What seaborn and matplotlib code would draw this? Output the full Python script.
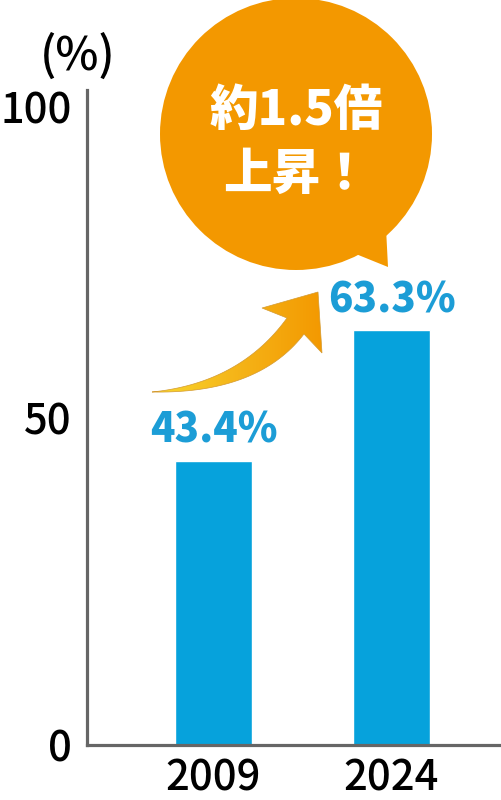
import numpy as np
import pandas as pd
import matplotlib
matplotlib.use("Agg")
import matplotlib.pyplot as plt
import seaborn as sns
from matplotlib.patches import Circle, Polygon, PathPatch
from matplotlib.path import Path
from matplotlib.colors import LinearSegmentedColormap

# data
years = ["2009", "2024"]
rates = [43.4, 63.3]
y_ticks = [0, 50, 100]
callout_lines = ["約1.5倍", "上昇！"]
unit_label = "(%)"

bar_color = "#06a2dc"
label_color = "#1c9dd6"
axis_color = "#666666"
orange = "#f39800"

sns.set_style("white")
plt.rcParams['font.family'] = ['Noto Sans CJK JP', 'DejaVu Sans']
plt.rcParams['text.color'] = 'black'
plt.rcParams['xtick.color'] = 'black'
plt.rcParams['ytick.color'] = 'black'

df = pd.DataFrame({"year": years, "rate": rates})

fig = plt.figure(figsize=(5.02, 8.0), dpi=100)
ax = fig.add_axes([87 / 502, 55 / 800, 415 / 502, 655 / 800])

sns.barplot(data=df, x="year", y="rate", color=bar_color, width=0.43,
            saturation=1, ax=ax)

ax.set_xlim(-0.711, 1.621)
ax.set_ylim(0, 100)
ax.set_xlabel("")
ax.set_ylabel("")

# spines
for s in ["top", "right"]:
    ax.spines[s].set_visible(False)
for s in ["left", "bottom"]:
    ax.spines[s].set_color(axis_color)
    ax.spines[s].set_linewidth(2.3)

ax.set_yticks(y_ticks)
ax.set_yticklabels([str(t) for t in y_ticks])
ax.tick_params(axis="y", direction="in", length=16.5, width=2.2,
               color=axis_color, labelsize=30, pad=11, labelcolor="black")
ax.tick_params(axis="x", length=0, labelsize=30, pad=8, labelcolor="black")
for lab in ax.get_xticklabels() + ax.get_yticklabels():
    lab.set_fontweight("medium")

# only the 50 tick has a visible mark
ticks = ax.yaxis.get_major_ticks()
ticks[0].tick1line.set_visible(False)
ticks[-1].tick1line.set_visible(False)
ticks[-1].label1.set_verticalalignment("top")

# value labels
for i, v in enumerate(rates):
    ax.annotate(f"{v}%", xy=(i, v), xytext=(0, 13), textcoords="offset points",
                ha="center", va="baseline", fontsize=29, fontweight="heavy",
                color=label_color)

# overlay in pixel coordinates for the decorations
ov = fig.add_axes([0, 0, 1, 1], zorder=5)
ov.set_xlim(0, 502)
ov.set_ylim(800, 0)
ov.set_axis_off()
ov.patch.set_visible(False)

ov.text(78, 56, unit_label, ha="center", va="center", fontsize=33,
        fontweight="medium")

# speech bubble
ov.add_patch(Circle((296, 134), 136, facecolor=orange, edgecolor="none"))
ov.add_patch(Polygon([(346, 250), (388, 267), (386, 228)],
                     closed=True, facecolor=orange, edgecolor="none"))
ov.text(296, 111, callout_lines[0], ha="center", va="center", fontsize=35,
        fontweight="heavy", color="white")
ov.text(296, 175, callout_lines[1], ha="center", va="center", fontsize=35,
        fontweight="heavy", color="white")


# curved arrow with yellow-to-orange gradient
def bez(p0, p1, p2, n=40):
    t = np.linspace(0, 1, n)[:, None]
    p0, p1, p2 = map(np.array, (p0, p1, p2))
    return (1 - t) ** 2 * p0 + 2 * (1 - t) * t * p1 + t ** 2 * p2


upper = bez((152, 392), (240, 383), (287, 318))
head = np.array([(262, 308), (318, 292), (322, 353)])
lower = bez((304, 334), (258, 394), (152, 392))
pts = np.vstack([upper, head, lower])
arrow_path = Path(pts, closed=False)
clip = PathPatch(arrow_path, facecolor="none", edgecolor="#d49a30",
                 linewidth=0.5, transform=ov.transData)
ov.add_patch(clip)
cmap = LinearSegmentedColormap.from_list("arr", ["#f9d92e", "#f5b418", orange])
grad = np.linspace(0, 1, 256)[None, :]
im = ov.imshow(grad, cmap=cmap, extent=(150, 325, 396, 288), aspect="auto",
               interpolation="bilinear")
im.set_clip_path(clip)
ov.set_xlim(0, 502)
ov.set_ylim(800, 0)

fig.savefig("out.png", dpi=100, facecolor="white")
